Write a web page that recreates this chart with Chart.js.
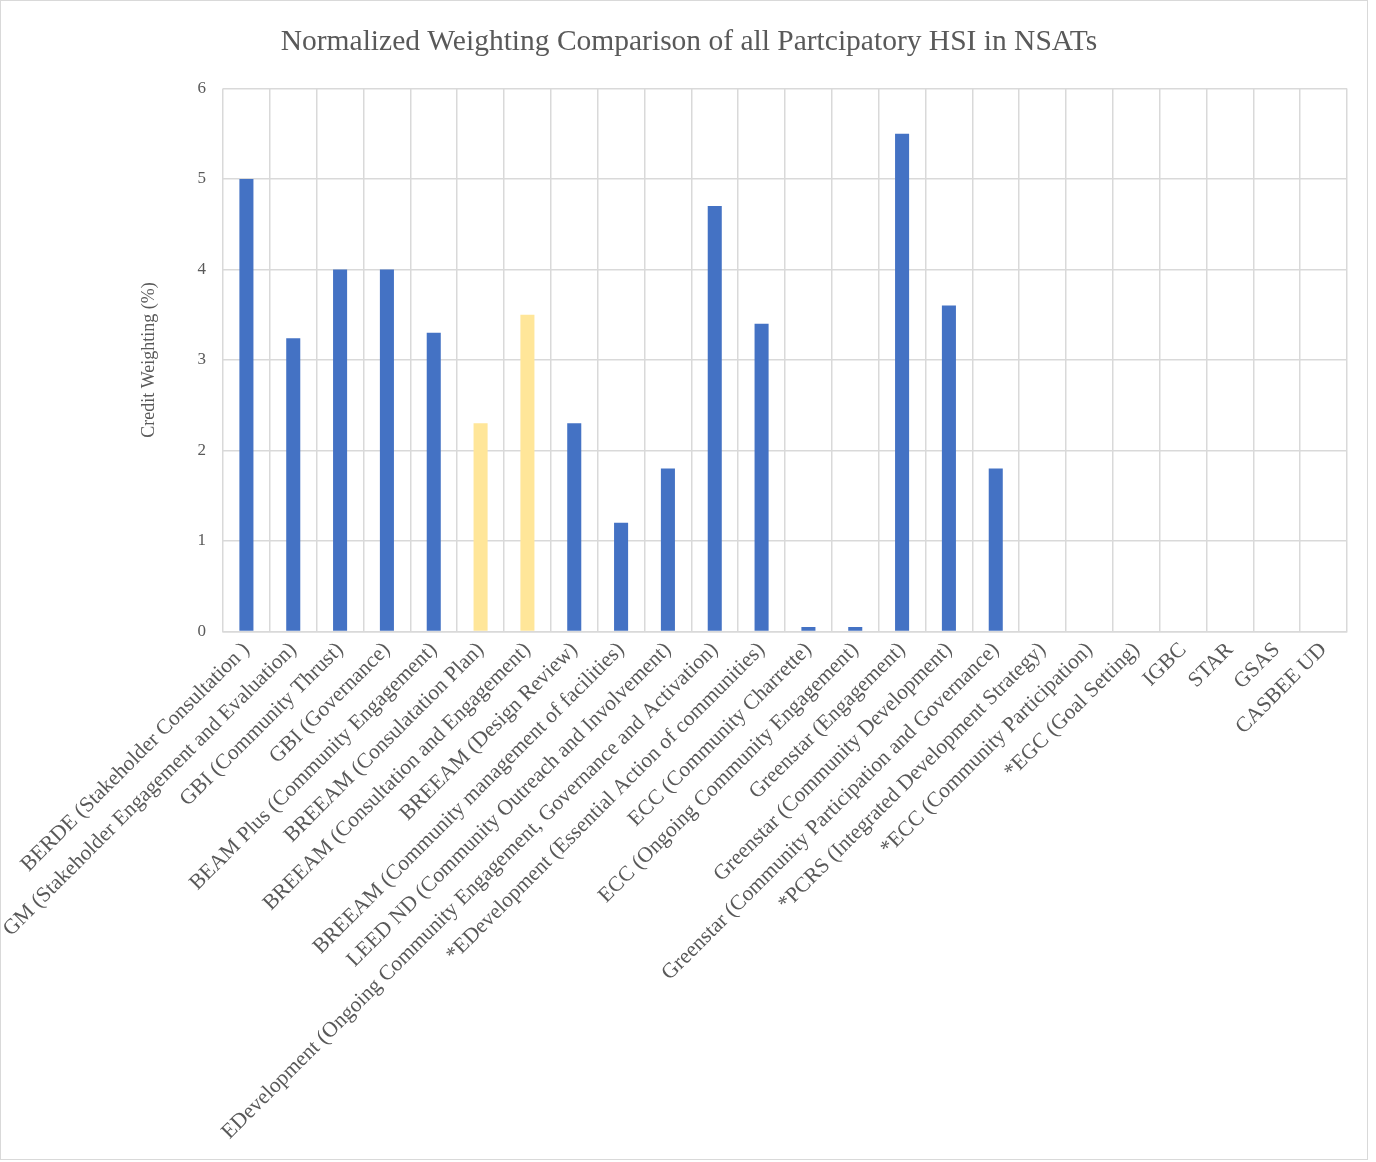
<!DOCTYPE html>
<html>
<head>
<meta charset="utf-8">
<script src="https://cdn.jsdelivr.net/npm/chart.js@4"></script>
<style>
  body { margin: 0; background: #fff; }
  #wrap { position: relative; width: 1366px; height: 1158px; border: 1px solid #d9d9d9; }
</style>
</head>
<body>
<div id="wrap"><canvas id="chart1"></canvas></div>
<script>
// datos
const categorias = [
    'BERDE (Stakeholder Consultation )',
    'GM (Stakeholder Engagement and Evaluation)',
    'GBI (Community Thrust)',
    'GBI (Governance)',
    'BEAM Plus (Community Engagement)',
    'BREEAM (Consulatation Plan)',
    'BREEAM (Consultation and Engagement)',
    'BREEAM (Design Review)',
    'BREEAM (Community management of facilities)',
    'LEED ND (Community Outreach and Involvement)',
    'EDevelopment (Ongoing Community Engagement, Governance and Activation)',
    '*EDevelopment (Essential Action of communities)',
    'ECC (Community Charrette)',
    'ECC (Ongoing Community Engagement)',
    'Greenstar (Engagement)',
    'Greenstar (Community Development)',
    'Greenstar (Community Participation and Governance)',
    '*PCRS (Integrated Development Strategy)',
    '*ECC (Community Participation)',
    '*EGC (Goal Setting)',
    'IGBC',
    'STAR',
    'GSAS',
    'CASBEE UD'
];
const pesos = [5, 3.24, 4, 4, 3.3, 2.3, 3.5, 2.3, 1.2, 1.8, 4.7, 3.4, 0.05, 0.05, 5.5, 3.6, 1.8, 0, 0, 0, 0, 0, 0, 0];
const resaltados = [5, 6]; // barras amarillas
const yTicks = [0, 1, 2, 3, 4, 5, 6];

const colores = pesos.map((v, i) => resaltados.includes(i) ? '#FFE699' : '#4472C4');

const ctx1 = document.getElementById('chart1').getContext('2d');
const gris = '#d9d9d9';
const texto = '#595959';

const chart1 = new Chart(ctx1, {
    type: 'bar',
    data: {
        labels: categorias,
        datasets: [{
            label: 'Credit Weighting',
            data: pesos,
            backgroundColor: colores,
            borderWidth: 0,
            categoryPercentage: 1,
            barPercentage: 0.3
        }]
    },
    options: {
        responsive: true,
        maintainAspectRatio: false,
        animation: false,
        layout: { padding: { top: 16, right: 20, left: 30, bottom: 8 } },
        plugins: {
            legend: { display: false },
            tooltip: { enabled: false },
            title: {
                display: true,
                text: 'Normalized Weighting Comparison of all Partcipatory HSI in NSATs',
                color: texto,
                font: { family: 'Liberation Serif', size: 29.5, weight: 'normal' },
                padding: { top: 8, bottom: 28 }
            }
        },
        scales: {
            x: {
                grid: { color: gris, lineWidth: 1.5, drawTicks: false, offset: true },
                border: { color: gris, width: 1.5 },
                ticks: {
                    color: texto,
                    font: { family: 'Liberation Serif', size: 21.5 },
                    minRotation: 45,
                    maxRotation: 45,
                    autoSkip: false,
                    padding: 6
                }
            },
            y: {
                min: 0,
                max: 6,
                afterBuildTicks: (axis) => { axis.ticks = yTicks.map(v => ({ value: v })); },
                afterFit: (axis) => { axis.width = 192; },
                grid: { color: gris, lineWidth: 1.5, drawTicks: false },
                border: { display: false },
                ticks: {
                    color: texto,
                    font: { family: 'Liberation Serif', size: 17 },
                    padding: 17
                },
                title: {
                    display: true,
                    text: 'Credit Weighting (%)',
                    color: texto,
                    font: { family: 'Liberation Serif', size: 18 },
                    padding: { top: 107, bottom: 0 }
                }
            }
        }
    }
});
</script>
</body>
</html>
